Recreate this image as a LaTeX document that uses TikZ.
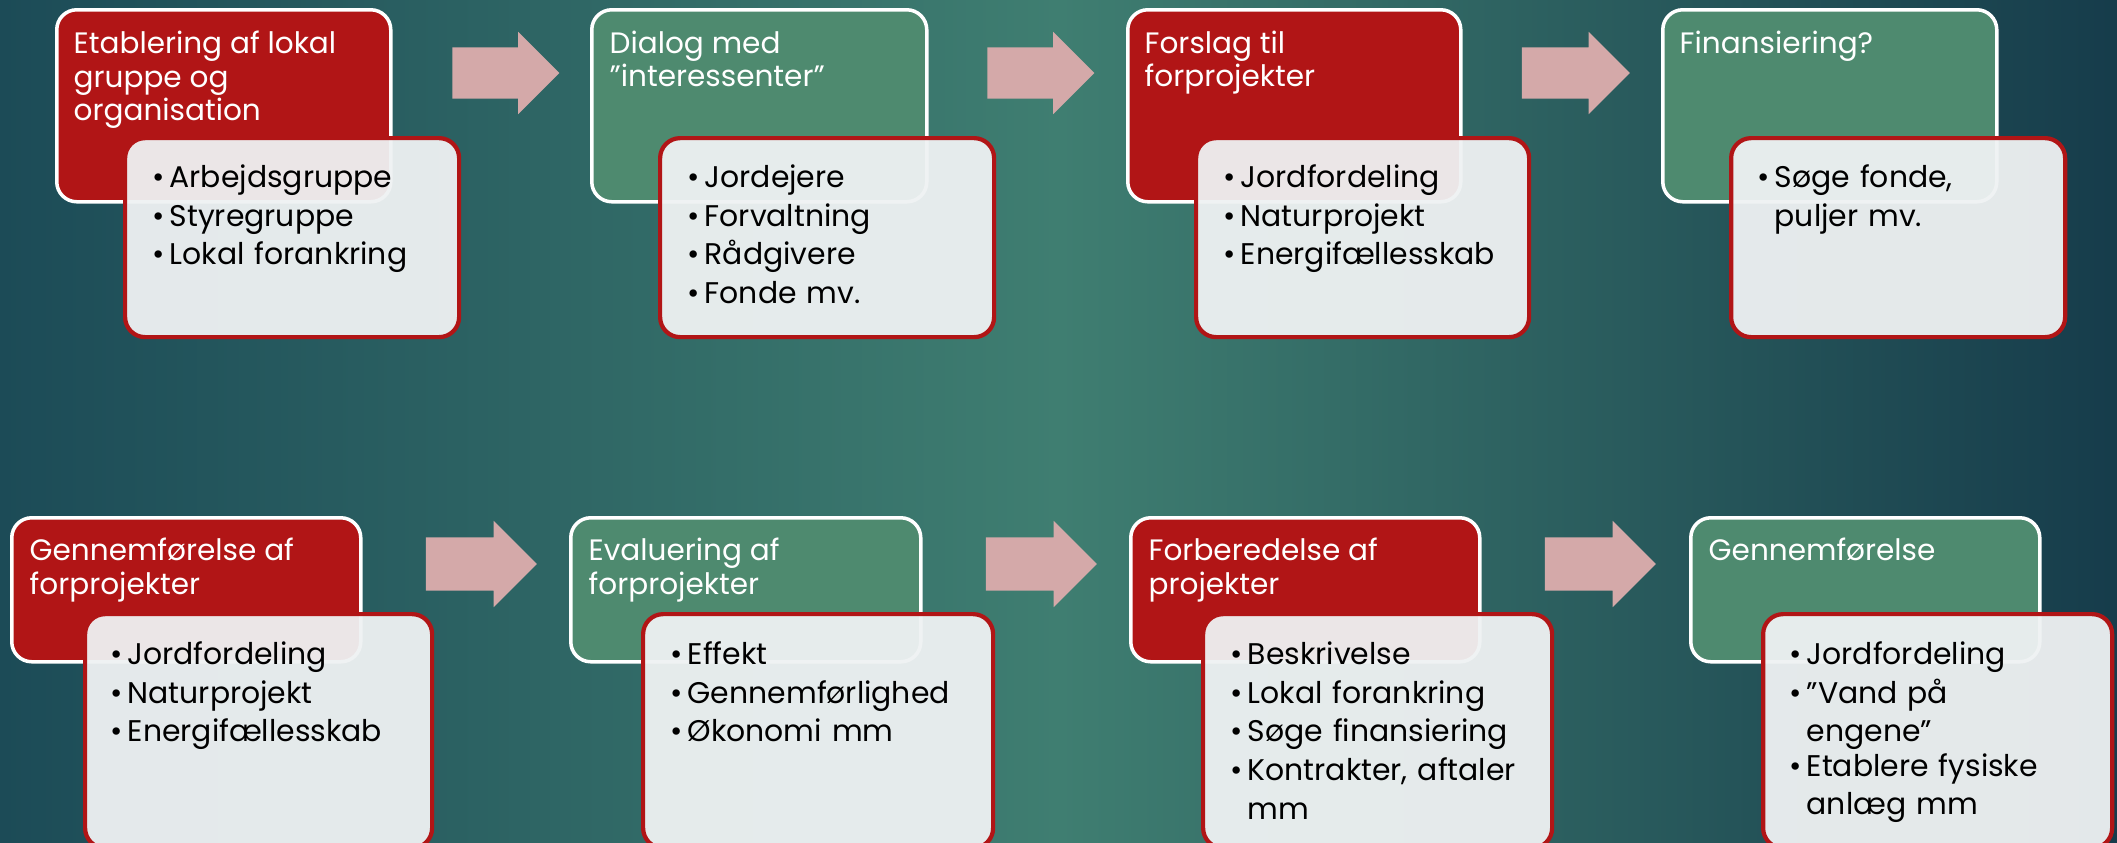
\documentclass[tikz,border=0pt]{standalone}
\usepackage{fontspec}
\setmainfont{Poppins}
\usetikzlibrary{positioning,shapes.arrows}

\definecolor{stepred}{HTML}{B11516}
\definecolor{stepgreen}{HTML}{4E8A6F}
\definecolor{arrowpink}{HTML}{D4A9A9}
\definecolor{cardfill}{HTML}{EFF2F3}
\definecolor{bgleft}{HTML}{1C4B57}
\definecolor{bgmid}{HTML}{3F7E71}
\definecolor{bgright}{HTML}{163C4B}

% one bullet line, wrapped lines stay under the text
\newcommand{\bitem}[1]{\par\noindent\makebox[0.17cm][l]{\textbullet}\parbox[t]{3cm}{\raggedright #1}}

\begin{document}
\begin{tikzpicture}[line join=round,
  head/.style={rectangle,rounded corners=0.2cm,draw=white,line width=1pt,inner sep=0,anchor=north west},
  headred/.style={head,fill=stepred},
  headgreen/.style={head,fill=stepgreen},
  headtxt/.style={text=white,inner sep=0,align=left,font=\fontsize{8.4}{9.6}\selectfont},
  card/.style={rectangle,rounded corners=0.2cm,draw=stepred,line width=1.2pt,fill=cardfill,
    fill opacity=0.95,inner sep=0,anchor=north west},
  cardtxt/.style={inner sep=0,text width=3.3cm,align=left,font=\fontsize{8.5}{11}\selectfont},
  flow/.style={single arrow,fill=arrowpink,draw=none,inner xsep=0,single arrow tip angle=90}]

  % background
  \clip (0,0) rectangle (21.17,-8.42);
  \shade[left color=bgleft,right color=bgright,middle color=bgmid] (0,0) rectangle (21.17,-8.42);

  % top row
  \node[headred,minimum width=3.34cm,minimum height=1.92cm] (h1) at (0.55,-0.08) {};
  \node[headtxt,below right=0.22cm and 0.18cm of h1.north west] (h1t) {Etablering af lokal\\gruppe og\\organisation};
  \node[card,minimum width=3.34cm,minimum height=1.99cm] (c1) at (1.23,-1.36) {};
  \node[cardtxt,below right=0.12cm and 0.29cm of c1.north west] (c1t)
    {\bitem{Arbejdsgruppe}\bitem{Styregruppe}\bitem{Lokal forankring}};

  \node[headgreen,minimum width=3.35cm,minimum height=1.92cm] (h2) at (5.90,-0.08) {};
  \node[headtxt,below right=0.22cm and 0.19cm of h2.north west] (h2t) {Dialog med\\”interessenter”};
  \node[card,minimum width=3.34cm,minimum height=1.99cm] (c2) at (6.58,-1.36) {};
  \node[cardtxt,below right=0.12cm and 0.29cm of c2.north west] (c2t)
    {\bitem{Jordejere}\bitem{Forvaltning}\bitem{Rådgivere}\bitem{Fonde mv.}};

  \node[headred,minimum width=3.33cm,minimum height=1.92cm] (h3) at (11.26,-0.08) {};
  \node[headtxt,below right=0.22cm and 0.18cm of h3.north west] (h3t) {Forslag til\\forprojekter};
  \node[card,minimum width=3.33cm,minimum height=1.99cm] (c3) at (11.94,-1.36) {};
  \node[cardtxt,below right=0.12cm and 0.29cm of c3.north west] (c3t)
    {\bitem{Jordfordeling}\bitem{Naturprojekt}\bitem{Energifællesskab}};

  \node[headgreen,minimum width=3.34cm,minimum height=1.92cm] (h4) at (16.61,-0.08) {};
  \node[headtxt,below right=0.22cm and 0.18cm of h4.north west] (h4t) {Finansiering?};
  \node[card,minimum width=3.34cm,minimum height=1.99cm] (c4) at (17.29,-1.36) {};
  \node[cardtxt,below right=0.12cm and 0.28cm of c4.north west] (c4t)
    {\bitem{Søge fonde,\\puljer mv.}};

  \node[flow,minimum height=1.07cm,inner ysep=0.25cm,single arrow head extend=0.155cm] (a1) at (4.93,-0.73) {};
  \node[flow,minimum height=1.07cm,inner ysep=0.25cm,single arrow head extend=0.155cm] (a2) at (10.28,-0.73) {};
  \node[flow,minimum height=1.08cm,inner ysep=0.25cm,single arrow head extend=0.155cm] (a3) at (15.63,-0.73) {};

  % bottom row
  \node[headred,minimum width=3.49cm,minimum height=1.44cm] (h5) at (0.10,-5.16) {};
  \node[headtxt,below right=0.21cm and 0.19cm of h5.north west] (h5t) {Gennemførelse af\\forprojekter};
  \node[card,minimum width=3.47cm,minimum height=2.34cm] (c5) at (0.83,-6.12) {};
  \node[cardtxt,below right=0.13cm and 0.27cm of c5.north west] (c5t)
    {\bitem{Jordfordeling}\bitem{Naturprojekt}\bitem{Energifællesskab}};

  \node[headgreen,minimum width=3.50cm,minimum height=1.44cm] (h6) at (5.69,-5.16) {};
  \node[headtxt,below right=0.21cm and 0.19cm of h6.north west] (h6t) {Evaluering af\\forprojekter};
  \node[card,minimum width=3.50cm,minimum height=2.34cm] (c6) at (6.41,-6.12) {};
  \node[cardtxt,below right=0.13cm and 0.29cm of c6.north west] (c6t)
    {\bitem{Effekt}\bitem{Gennemførlighed}\bitem{Økonomi mm}};

  \node[headred,minimum width=3.49cm,minimum height=1.44cm] (h7) at (11.29,-5.16) {};
  \node[headtxt,below right=0.21cm and 0.19cm of h7.north west] (h7t) {Forberedelse af\\projekter};
  \node[card,minimum width=3.49cm,minimum height=2.34cm] (c7) at (12.01,-6.12) {};
  \node[cardtxt,below right=0.13cm and 0.29cm of c7.north west] (c7t)
    {\bitem{Beskrivelse}\bitem{Lokal forankring}\bitem{Søge finansiering}\bitem{Kontrakter, aftaler\\mm}};

  \node[headgreen,minimum width=3.49cm,minimum height=1.44cm] (h8) at (16.89,-5.16) {};
  \node[headtxt,below right=0.21cm and 0.19cm of h8.north west] (h8t) {Gennemførelse};
  \node[card,minimum width=3.49cm,minimum height=2.34cm] (c8) at (17.61,-6.12) {};
  \node[cardtxt,below right=0.13cm and 0.28cm of c8.north west] (c8t)
    {\bitem{Jordfordeling}\bitem{”Vand på\\engene”}\bitem{Etablere fysiske\\anlæg mm}};

  \node[flow,minimum height=1.11cm,inner ysep=0.26cm,single arrow head extend=0.165cm] (b1) at (4.68,-5.64) {};
  \node[flow,minimum height=1.11cm,inner ysep=0.26cm,single arrow head extend=0.165cm] (b2) at (10.28,-5.64) {};
  \node[flow,minimum height=1.11cm,inner ysep=0.26cm,single arrow head extend=0.165cm] (b3) at (15.87,-5.64) {};
\end{tikzpicture}
\end{document}
